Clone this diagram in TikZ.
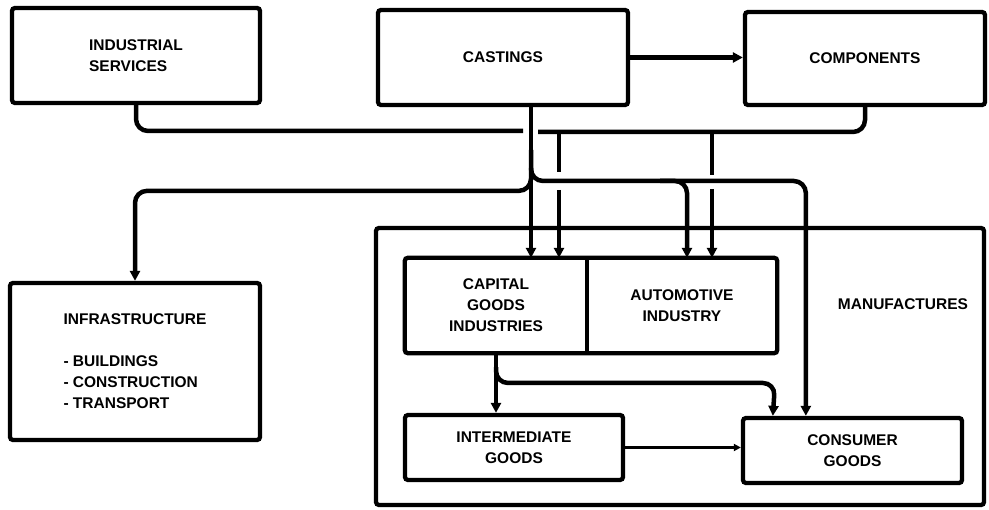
\documentclass[tikz,border=0pt]{standalone}
\usepackage{fontspec}
\setmainfont{Liberation Sans}
\usetikzlibrary{arrows.meta,calc}
\begin{document}
\begin{tikzpicture}[x=1pt,y=-1pt,
  txt/.style={font=\fontsize{15.5}{21}\selectfont\bfseries},
  box/.style={draw, line width=4.3pt, rounded corners=3pt, inner sep=0pt, align=center, txt},
  plain/.style={inner sep=0pt, align=center, txt},
  conn/.style={line width=4.5pt, rounded corners=12pt},
  thinl/.style={line width=3.4pt},
  arr/.style={-{Triangle[length=10pt,width=10pt]}},
  sarr/.style={-{Triangle[length=7pt,width=7pt]}}
]
\useasboundingbox (0,0) rectangle (989,510);

% top row
\node[box, align=left, minimum width=248pt, minimum height=95pt] (ind) at (136,55.5) {INDUSTRIAL\\SERVICES};
\node[box, minimum width=250pt, minimum height=95pt] (cast) at (503,57.5) {CASTINGS};
\node[box, minimum width=240pt, minimum height=93pt] (comp) at (865,58.5) {COMPONENTS};

% infrastructure
\node[box, align=left, minimum width=250pt, minimum height=157pt] (infra) at (135,361.5)
  {INFRASTRUCTURE\\[21pt]- BUILDINGS\\- CONSTRUCTION\\- TRANSPORT};

% manufactures container
\node[box, minimum width=608pt, minimum height=277pt] (manu) at (680,366.5) {};
\node[plain] (mlab) at (903,304) {MANUFACTURES};

% capital / automotive
\node[plain, minimum width=182pt, minimum height=95pt] (cap) at (496,305.5) {CAPITAL\\GOODS\\INDUSTRIES};
\node[plain, minimum width=190pt, minimum height=95pt] (auto) at (682,305.5) {AUTOMOTIVE\\INDUSTRY};
\draw[line width=4.3pt, rounded corners=3pt] (cap.north west) rectangle (auto.south east);
\draw[line width=4.3pt] (cap.north east) -- (cap.south east);

% lower boxes
\node[box, minimum width=218pt, minimum height=65pt] (inter) at (514,447.5) {INTERMEDIATE\\GOODS};
\node[box, minimum width=219pt, minimum height=65pt] (cons) at (852.5,450.5) {CONSUMER\\GOODS};

% coordinates
\coordinate (cdown) at ($(cast.south)+(28,0)$);
\coordinate (bl) at (523,131);
\coordinate (br) at (538,132);
\coordinate (jr) at (687,181);
\coordinate (jl) at (531,168);
\coordinate (cin) at ($(cons.north west)+(65,0)$);
\coordinate (cin2) at ($(cons.north west)+(32,0)$);

% castings -> components
\draw[conn, arr] (cast.east) -- (cast.east -| comp.west);

% bus from industrial services and components
\draw[conn] (ind.south) |- (bl);
\draw[conn] (br) -| (comp.south);

% thin drops from bus
\draw[thinl] (559,132) -- (559,172);
\draw[thinl, arr] (559,190) -- (559,0 |- cap.north);
\draw[thinl] (712,132) -- (712,175);
\draw[thinl, arr] (712,189) -- (712,0 |- auto.north);

% castings down
\draw[conn, arr] (cdown) -- (cdown |- cap.north);
\draw[conn, arr] (531,150) |- (jr) -- (jr |- auto.north);
\draw[conn, arr] (660,181) -| (cin);
\draw[conn, arr] (jl) |- ($(infra.north)+(0,-90)$) -- (infra.north);

% lower
\draw[conn, arr] (cap.south) -- (cap.south |- inter.north);
\draw[conn, arr] ($(cap.south)+(0,14)$) |- (775,383) -- (cin2);
\draw[thinl, sarr] (inter.east) -- (inter.east -| cons.west);

\end{tikzpicture}
\end{document}
